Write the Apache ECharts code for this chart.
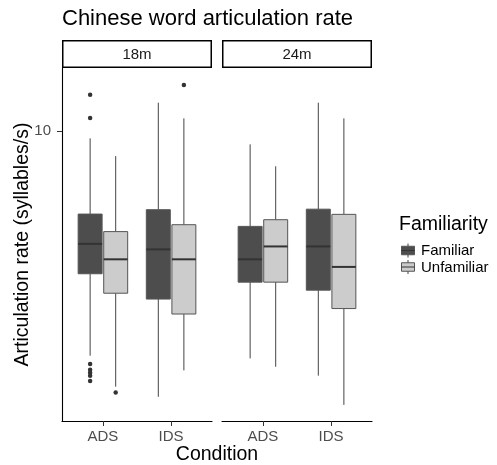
<!DOCTYPE html>
<html><head><meta charset="utf-8">
<script src="https://cdn.jsdelivr.net/npm/echarts@6/dist/echarts.min.js"></script>
<style>html,body{margin:0;padding:0;background:#fff}#c{width:497px;height:465px}</style>
</head><body><div id="c"></div>
<script>
const facets = ['18m', '24m'];
const conditions = ['ADS', 'IDS'];
const groups = ['Familiar', 'Unfamiliar'];
// [lowerWhisker, Q1, median, Q3, upperWhisker], one row per condition (ADS, IDS)
const familiar18 = [[2.28, 3.91, 4.76, 5.79, 9.53], [1.74, 3.31, 4.59, 5.96, 12.05]];
const unfamiliar18 = [[1.86, 3.44, 4.30, 5.16, 8.48], [2.07, 3.00, 4.30, 5.40, 10.87]];
const familiar24 = [[2.24, 3.70, 4.30, 5.34, 9.16], [2.00, 3.51, 4.68, 5.98, 12.05]];
const unfamiliar24 = [[2.12, 3.70, 4.68, 5.58, 7.93], [1.65, 3.11, 4.09, 5.78, 10.87]];
// outliers: [conditionIndex, value]
const outFamiliar18 = [[0, 12.70], [0, 10.89], [0, 2.16], [0, 2.08], [0, 2.04], [0, 2.00], [0, 1.93]];
const outUnfamiliar18 = [[0, 1.79], [1, 13.53]];
const outFamiliar24 = [];
const outUnfamiliar24 = [];
const yTicks = [10];
const yMin = 1.484, yMax = 15.14;

const FONT = "'Liberation Sans', Arial, sans-serif";
const fills = ['#4d4d4d', '#cccccc'];
const DODGE = 0.1875;
const boxStats = [[familiar18, unfamiliar18], [familiar24, unfamiliar24]];
const outStats = [[outFamiliar18, outUnfamiliar18], [outFamiliar24, outUnfamiliar24]];

function renderBox(params, api) {
  const x = api.value(0);
  const lo = api.coord([x, api.value(1)]);
  const q1 = api.coord([x, api.value(2)]);
  const med = api.coord([x, api.value(3)]);
  const q3 = api.coord([x, api.value(4)]);
  const hi = api.coord([x, api.value(5)]);
  const half = Math.abs(api.coord([x + DODGE, api.value(3)])[0] - med[0]) - 0.8;
  const cx = med[0];
  const fill = api.style().fill;
  const lc = '#444';
  return {
    type: 'group', children: [
      { type: 'line', shape: { x1: cx, y1: hi[1], x2: cx, y2: q3[1] }, style: { stroke: lc, lineWidth: 1 } },
      { type: 'line', shape: { x1: cx, y1: q1[1], x2: cx, y2: lo[1] }, style: { stroke: lc, lineWidth: 1 } },
      { type: 'rect', shape: { x: cx - half, y: q3[1], width: 2 * half, height: q1[1] - q3[1] }, style: { fill: fill, stroke: '#555', lineWidth: 1 } },
      { type: 'line', shape: { x1: cx - half, y1: med[1], x2: cx + half, y2: med[1] }, style: { stroke: '#333', lineWidth: 2 } }
    ]
  };
}

const grids = [], xAxes = [], yAxes = [], series = [];
facets.forEach(function (f, fi) {
  grids.push({ left: 62 + fi * 160, top: 68, width: 150, height: 353 });
  xAxes.push({
    type: 'value', gridIndex: fi, min: 0.4, max: 2.6,
    axisLine: { show: true, onZero: false, lineStyle: { color: '#000', width: 1.1 } },
    axisTick: { show: true, customValues: [1, 2], length: 5, lineStyle: { color: '#333', width: 1 } },
    axisLabel: { customValues: [1, 2], formatter: function (v) { return conditions[Math.round(v) - 1]; },
      color: '#4d4d4d', fontSize: 15, fontFamily: FONT, margin: 8 },
    splitLine: { show: false }
  });
  yAxes.push({
    type: 'log', logBase: 10, gridIndex: fi, min: yMin, max: yMax,
    axisLine: { show: fi === 0, onZero: false, lineStyle: { color: '#000', width: 1.1 } },
    axisTick: { show: fi === 0, customValues: yTicks, length: 5, lineStyle: { color: '#333', width: 1 } },
    axisLabel: { show: fi === 0, customValues: yTicks, color: '#4d4d4d', fontSize: 15, fontFamily: FONT, margin: 11 },
    minorTick: { show: false }, splitLine: { show: false }
  });
  groups.forEach(function (g, gi) {
    const dodge = gi === 0 ? -DODGE : DODGE;
    const data = boxStats[fi][gi].map(function (s, ci) { return [ci + 1 + dodge].concat(s); });
    series.push({
      type: 'custom', name: g, xAxisIndex: fi, yAxisIndex: fi,
      itemStyle: { color: fills[gi] },
      encode: { x: 0, y: [1, 2, 3, 4, 5] },
      renderItem: renderBox, data: data, silent: true
    });
    series.push({
      type: 'scatter', xAxisIndex: fi, yAxisIndex: fi, symbolSize: 4.5,
      itemStyle: { color: '#333', opacity: 1 }, silent: true,
      data: outStats[fi][gi].map(function (o) { return [o[0] + 1 + dodge, o[1]]; })
    });
  });
});

const graphics = [
  { type: 'text', left: 62, top: 8, style: { text: 'Chinese word articulation rate', fontSize: 22, fontFamily: FONT, fill: '#000' } },
  { type: 'text', x: 217, y: 455, style: { text: 'Condition', fontSize: 19.5, fontFamily: FONT, fill: '#000', align: 'center', verticalAlign: 'middle' } },
  { type: 'text', x: 23, y: 244.5, rotation: Math.PI / 2, style: { text: 'Articulation rate (syllables/s)', fontSize: 19.5, fontFamily: FONT, fill: '#000', align: 'center', verticalAlign: 'middle' } },
  { type: 'text', x: 399, y: 225, style: { text: 'Familiarity', fontSize: 19.5, fontFamily: FONT, fill: '#000', verticalAlign: 'middle' } }
];
facets.forEach(function (f, fi) {
  const x0 = 62 + fi * 160;
  graphics.push({ type: 'rect', shape: { x: x0 + 0.75, y: 40.75, width: 148.5, height: 26.5 }, style: { fill: '#fff', stroke: '#000', lineWidth: 1.5 } });
  graphics.push({ type: 'text', x: x0 + 75, y: 55, style: { text: f, fontSize: 15, fontFamily: FONT, fill: '#1a1a1a', align: 'center', verticalAlign: 'middle' } });
});
groups.forEach(function (g, gi) {
  const cy = 250.5 + gi * 16.5, cx = 408;
  graphics.push({ type: 'line', shape: { x1: cx, y1: cy - 7, x2: cx, y2: cy + 7 }, style: { stroke: '#444', lineWidth: 1 } });
  graphics.push({ type: 'rect', shape: { x: cx - 6.5, y: cy - 4.25, width: 13, height: 8.5 }, style: { fill: fills[gi], stroke: '#555', lineWidth: 1 } });
  graphics.push({ type: 'line', shape: { x1: cx - 6.5, y1: cy, x2: cx + 6.5, y2: cy }, style: { stroke: '#333', lineWidth: 1 } });
  graphics.push({ type: 'text', x: 421, y: cy + 0.5, style: { text: g, fontSize: 15, fontFamily: FONT, fill: '#000', verticalAlign: 'middle' } });
});

const chart = echarts.init(document.getElementById('c'), null, { renderer: 'canvas' });
chart.setOption({
  animation: false, backgroundColor: '#fff',
  grid: grids, xAxis: xAxes, yAxis: yAxes, series: series, graphic: graphics
});
</script></body></html>
